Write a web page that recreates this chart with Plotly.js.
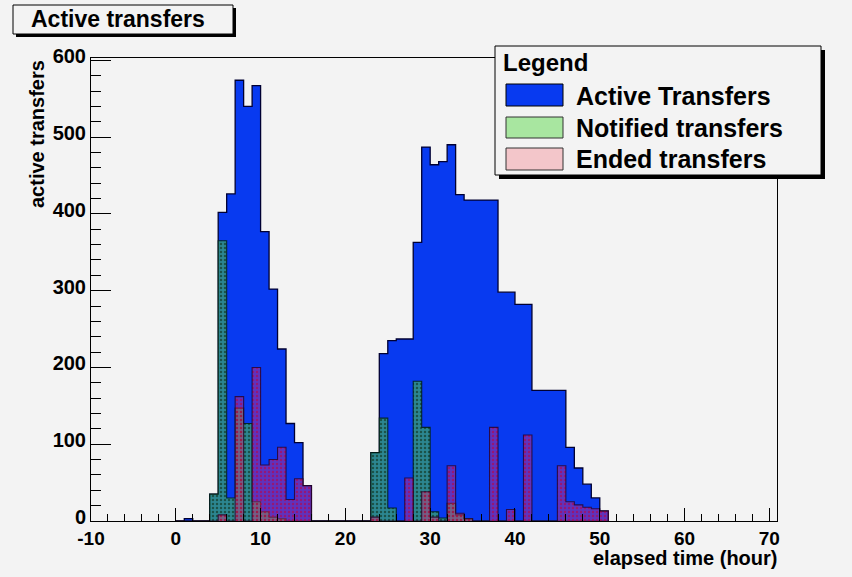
<!DOCTYPE html>
<html>
<head>
<meta charset="utf-8">
<script src="https://cdn.plot.ly/plotly-3.0.1.min.js"></script>
<style>
  html, body { margin: 0; padding: 0; background: #f3f3f3; }
  #chart { width: 852px; height: 577px; }
</style>
</head>
<body>
<div id="chart"></div>
<script>
// Bin lower edges (hours), 1-hour bins
const hours = [0,1,2,3,4,5,6,7,8,9,10,11,12,13,14,15,16,17,18,19,20,21,22,23,24,25,26,27,28,29,30,31,32,33,34,35,36,37,38,39,40,41,42,43,44,45,46,47,48,49,50];
const activeTransfers = [0,3,0,0,35,402,426,574,540,567,377,302,224,127,102,46,0,0,0,0,0,0,0,89,218,235,237,237,363,487,464,468,490,425,418,418,418,418,298,298,282,282,170,170,170,170,96,69,48,30,13];
const notifiedTransfers = [0,0,0,0,35,365,30,147,127,25,12,5,3,0,0,0,0,0,0,0,0,0,0,89,134,17,0,0,182,122,12,4,23,8,3,0,0,0,0,0,0,0,0,0,0,0,0,0,0,0,0];
const endedTransfers = [0,0,0,0,0,8,0,162,0,200,73,80,96,28,55,46,0,0,0,0,0,0,0,5,0,0,0,56,0,38,5,0,72,10,3,0,0,122,0,15,0,112,0,0,0,72,25,21,18,16,13];
const seriesNames = ["Active Transfers", "Notified transfers", "Ended transfers"];
const xTickVals = [-10,0,10,20,30,40,50,60,70];
const yTickVals = [0,100,200,300,400,500,600];

function steps(vals) {
  const x = [], y = [];
  hours.forEach((h, i) => { x.push(h); y.push(vals[i]); });
  const last = hours[hours.length - 1] + 1;
  x.push(last); y.push(vals[vals.length - 1]);
  x.push(last); y.push(0);
  return {x, y};
}

const sA = steps(activeTransfers), sN = steps(notifiedTransfers), sE = steps(endedTransfers);

const traces = [
  {
    type: 'scatter', mode: 'lines', name: seriesNames[0], x: sA.x, y: sA.y,
    line: {shape: 'hv', color: 'rgb(0,0,50)', width: 1.3},
    fill: 'tozeroy', fillcolor: 'rgb(8,58,240)', hoverinfo: 'skip'
  },
  {
    type: 'scatter', mode: 'lines', name: seriesNames[1], x: sN.x, y: sN.y,
    line: {shape: 'hv', color: 'rgba(0,30,20,0.85)', width: 1.1},
    fill: 'tozeroy', fillcolor: 'rgba(60,170,100,0.68)',
    fillpattern: {shape: '.', bgcolor: 'rgba(60,170,100,0.68)', fgcolor: 'rgba(20,60,40,0.7)', size: 4, solidity: 0.3},
    hoverinfo: 'skip'
  },
  {
    type: 'scatter', mode: 'lines', name: seriesNames[2], x: sE.x, y: sE.y,
    line: {shape: 'hv', color: 'rgba(40,0,40,0.8)', width: 1.1},
    fill: 'tozeroy', fillcolor: 'rgba(215,40,120,0.42)',
    fillpattern: {shape: '.', bgcolor: 'rgba(215,40,120,0.42)', fgcolor: 'rgba(190,0,60,0.55)', size: 4, solidity: 0.3},
    hoverinfo: 'skip'
  }
];

// pixel -> paper helpers (plot area: x 91..777, y 58..521)
const L = 91, W = 686, T = 58, H = 463;
const px = p => (p - L) / W;
const py = p => (T + H - p) / H;
const BG = '#f3f3f3';
const font = 'Liberation Sans, Arial, Helvetica, sans-serif';

function rect(x0, y0, x1, y1, fill, line, lw) {
  return {type: 'rect', xref: 'paper', yref: 'paper', layer: 'above',
    x0: px(x0), x1: px(x1), y0: py(y1), y1: py(y0),
    fillcolor: fill, line: {color: line || 'rgba(0,0,0,0)', width: lw === undefined ? 1 : lw}};
}

const shapes = [
  // title box
  rect(16, 8, 236, 37, '#000', '#000', 0),
  rect(13, 5, 233, 34, BG, '#000', 1),
  // legend box
  rect(499, 50, 825, 179, '#000', '#000', 0),
  rect(495, 46, 821, 175, BG, '#000', 1),
  // legend swatches
  rect(506, 84, 563, 106, 'rgb(8,58,240)', '#000', 1),
  rect(506, 117, 563, 138, '#a8e6a0', '#333', 1),
  rect(506, 148, 563, 170, '#f3c6ca', '#333', 1)
];

const annotations = [
  {xref: 'paper', yref: 'paper', x: px(118), y: py(19.5), xanchor: 'center', yanchor: 'middle',
   text: 'Active transfers', showarrow: false, font: {family: font, size: 23, color: '#000', weight: 'bold'}},
  {xref: 'paper', yref: 'paper', x: px(501), y: py(63), xanchor: 'left', yanchor: 'middle',
   text: 'Legend', showarrow: false, font: {family: font, size: 24, color: '#000', weight: 'bold'}},
  {xref: 'paper', yref: 'paper', x: px(574), y: py(96), xanchor: 'left', yanchor: 'middle',
   text: seriesNames[0], showarrow: false, font: {family: font, size: 25, color: '#000', weight: 'bold'}},
  {xref: 'paper', yref: 'paper', x: px(574), y: py(128), xanchor: 'left', yanchor: 'middle',
   text: seriesNames[1], showarrow: false, font: {family: font, size: 25, color: '#000', weight: 'bold'}},
  {xref: 'paper', yref: 'paper', x: px(574), y: py(159), xanchor: 'left', yanchor: 'middle',
   text: seriesNames[2], showarrow: false, font: {family: font, size: 25, color: '#000', weight: 'bold'}},
  // axis titles
  {xref: 'paper', yref: 'paper', x: px(779), y: py(558), xanchor: 'right', yanchor: 'middle',
   text: 'elapsed time (hour)', showarrow: false, font: {family: font, size: 20, color: '#000', weight: 'bold'}},
  {xref: 'paper', yref: 'paper', x: px(37), y: py(58), xanchor: 'center', yanchor: 'top', textangle: -90,
   text: 'active transfers', showarrow: false, font: {family: font, size: 20, color: '#000', weight: 'bold'}}
];

const layout = {
  width: 852, height: 577,
  paper_bgcolor: BG, plot_bgcolor: BG,
  margin: {l: L, r: 852 - L - W, t: T, b: 577 - T - H, pad: 0},
  showlegend: false,
  font: {family: font, color: '#000'},
  xaxis: {
    range: [-10, 70.9], showgrid: false, zeroline: false,
    showline: true, mirror: true, linecolor: '#000', linewidth: 1,
    tickmode: 'array', tickvals: xTickVals, ticktext: xTickVals.map(String),
    ticks: 'inside', ticklen: 13, tickcolor: '#000', tickwidth: 1,
    minor: {dtick: 2, tick0: -10, ticks: 'inside', ticklen: 7, tickcolor: '#000', tickwidth: 1, showgrid: false},
    tickfont: {family: font, size: 19, color: '#000', weight: 'bold'}
  },
  yaxis: {
    range: [0, 603], showgrid: false, zeroline: false,
    showline: true, mirror: true, linecolor: '#000', linewidth: 1,
    tickmode: 'array', tickvals: yTickVals, ticktext: yTickVals.map(String),
    ticks: 'inside', ticklen: 20, tickcolor: '#000', tickwidth: 1,
    ticklabelshift: -4,
    minor: {dtick: 20, tick0: 0, ticks: 'inside', ticklen: 10, tickcolor: '#000', tickwidth: 1, showgrid: false},
    tickfont: {family: font, size: 20, color: '#000', weight: 'bold'}
  },
  shapes: shapes,
  annotations: annotations
};

Plotly.newPlot('chart', traces, layout, {displayModeBar: false, staticPlot: true});
</script>
</body>
</html>
